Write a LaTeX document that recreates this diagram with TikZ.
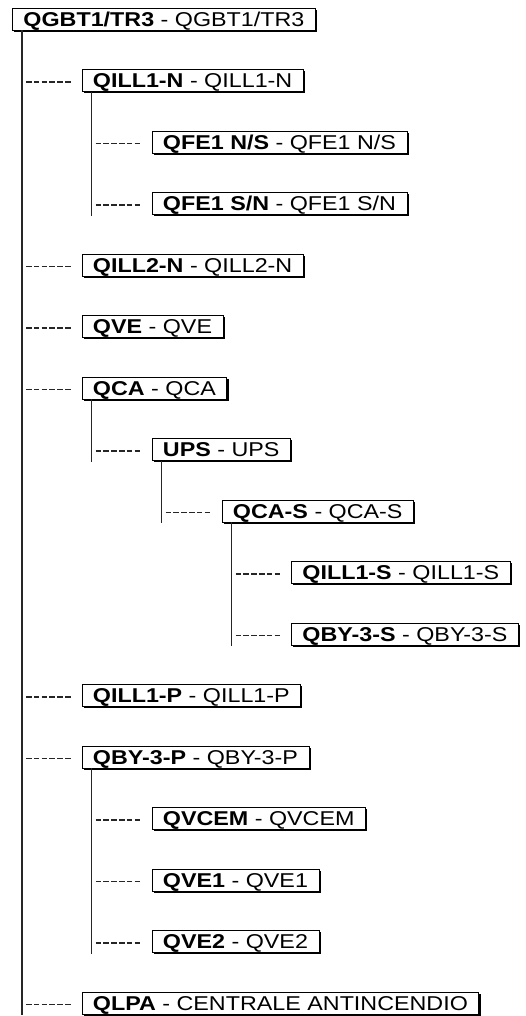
\documentclass[tikz,border=0pt]{standalone}
\usepackage{fontspec}
\usepackage{graphicx}
\setmainfont{Liberation Sans}
\usetikzlibrary{shadows}

% label of a panel: bold code, then its description (optional extra right padding)
\newcommand\paneltext[3][4pt]{\scalebox{1.165}[1]{\textbf{#2} - #3}\hspace{#1}}

\begin{document}
\begin{tikzpicture}[x=1pt,y=-1pt,
  panel/.style={draw=black, line width=0.9pt, fill=white, anchor=west,
    minimum height=22pt, inner xsep=11pt, inner ysep=0pt,
    text height=14.3pt, text depth=0pt,
    font=\fontsize{20pt}{22pt}\selectfont,
    drop shadow={shadow xshift=1.6pt, shadow yshift=-1.6pt, opacity=1, fill=black}},
  trunk/.style={line width=1.2pt, draw=black!85},
  tick/.style={line width=1.1pt, draw=black!85, dash pattern=on 5.6pt off 2.2pt,
    shorten <=4pt, shorten >=10.4pt}
]
\useasboundingbox (0,0) rectangle (526,1016);

% panels, one row each
\node[panel] (root)   at (12,19)      {\paneltext{QGBT1/TR3}{QGBT1/TR3}};
\node[panel] (qill1n) at (81.5,80.5)  {\paneltext{QILL1-N}{QILL1-N}};
\node[panel] (qfe1ns) at (151.5,142)  {\paneltext{QFE1 N/S}{QFE1 N/S}};
\node[panel] (qfe1sn) at (151.5,203.5){\paneltext{QFE1 S/N}{QFE1 S/N}};
\node[panel] (qill2n) at (81.5,265)   {\paneltext{QILL2-N}{QILL2-N}};
\node[panel] (qve)    at (81.5,326.5) {\paneltext{QVE}{QVE}};
\node[panel] (qca)    at (81.5,388)   {\paneltext{QCA}{QCA}};
\node[panel] (ups)    at (151.5,449.5){\paneltext{UPS}{UPS}};
\node[panel] (qcas)   at (221.5,511)  {\paneltext{QCA-S}{QCA-S}};
\node[panel] (qill1s) at (291,572.5)  {\paneltext{QILL1-S}{QILL1-S}};
\node[panel] (qby3s)  at (291,634)    {\paneltext{QBY-3-S}{QBY-3-S}};
\node[panel] (qill1p) at (81.5,695.5) {\paneltext{QILL1-P}{QILL1-P}};
\node[panel] (qby3p)  at (81.5,757)   {\paneltext{QBY-3-P}{QBY-3-P}};
\node[panel] (qvcem)  at (151.5,818.5){\paneltext{QVCEM}{QVCEM}};
\node[panel] (qve1)   at (151.5,880)  {\paneltext{QVE1}{QVE1}};
\node[panel] (qve2)   at (151.5,941.5){\paneltext{QVE2}{QVE2}};
\node[panel] (qlpa)   at (81.5,1003)  {\paneltext[-4.5pt]{QLPA}{CENTRALE ANTINCENDIO}};

% vertical feeders below each parent panel
\coordinate (vroot) at ([xshift=10pt]root.south west);
\coordinate (vqill1n) at ([xshift=10pt]qill1n.south west);
\coordinate (vqca) at ([xshift=10pt]qca.south west);
\coordinate (vups) at ([xshift=10pt]ups.south west);
\coordinate (vqcas) at ([xshift=10pt]qcas.south west);
\coordinate (vqby3p) at ([xshift=10pt]qby3p.south west);

\draw[trunk] (vroot) -- ([yshift=-1pt]vroot |- qlpa.south);
\draw[trunk] (vqill1n) -- ([yshift=-1pt]vqill1n |- qfe1sn.south);
\draw[trunk] (vqca) -- ([yshift=-1pt]vqca |- ups.south);
\draw[trunk] (vups) -- ([yshift=-1pt]vups |- qcas.south);
\draw[trunk] (vqcas) -- ([yshift=-1pt]vqcas |- qby3s.south);
\draw[trunk] (vqby3p) -- ([yshift=-1pt]vqby3p |- qve2.south);

% dashed branches from a feeder to each child panel
\foreach \v/\c in {vroot/qill1n, vroot/qill2n, vroot/qve, vroot/qca,
                   vroot/qill1p, vroot/qby3p, vroot/qlpa,
                   vqill1n/qfe1ns, vqill1n/qfe1sn,
                   vqca/ups, vups/qcas,
                   vqcas/qill1s, vqcas/qby3s,
                   vqby3p/qvcem, vqby3p/qve1, vqby3p/qve2}
  \draw[tick] ([yshift=-1.5pt]\c.west -| \v) -- ([yshift=-1.5pt]\c.west);
\end{tikzpicture}
\end{document}
